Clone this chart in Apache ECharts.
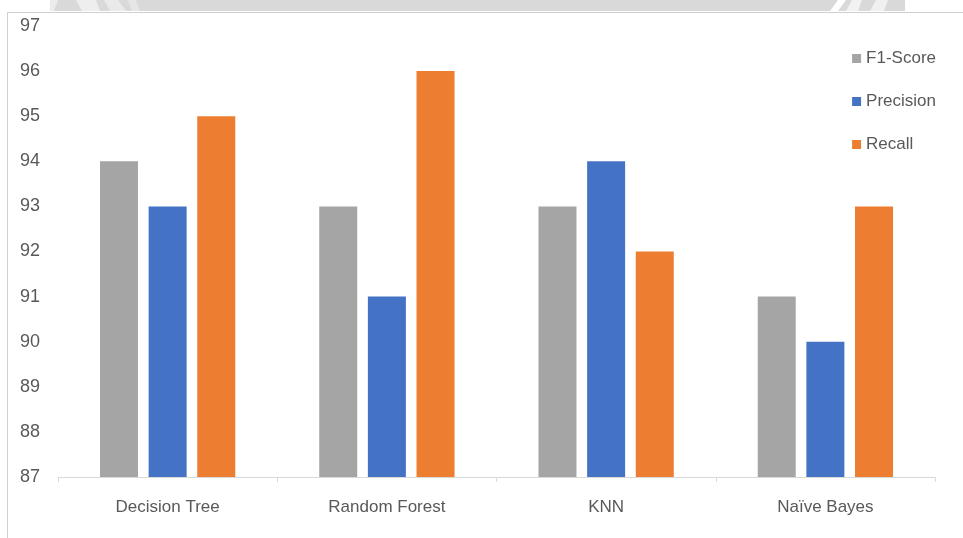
<!DOCTYPE html>
<html>
<head>
<meta charset="utf-8">
<script src="https://cdn.jsdelivr.net/npm/echarts@6/dist/echarts.min.js"></script>
<style>
  html, body { margin: 0; padding: 0; background: #ffffff; }
  #chart { width: 963px; height: 538px; }
</style>
</head>
<body>
<div id="chart"></div>
<script>
// Classifier metrics (%) per model
const categories = ['Decision Tree', 'Random Forest', 'KNN', 'Naïve Bayes'];
const f1Score = [94, 93, 93, 91];
const precision = [93, 91, 94, 90];
const recall = [95, 96, 92, 93];
const yTicks = { min: 87, max: 97, step: 1 };

const chart = echarts.init(document.getElementById('chart'));
const labelFont = 'Liberation Sans, Arial, sans-serif';

chart.setOption({
  animation: false,
  backgroundColor: '#ffffff',
  grid: { left: 58, right: 28, top: 26, bottom: 61 },
  legend: {
    orient: 'vertical',
    right: 22,
    top: 45,
    itemGap: 26,
    itemWidth: 9,
    itemHeight: 9,
    icon: 'rect',
    textStyle: { color: '#595959', fontSize: 17, fontFamily: labelFont },
    data: ['F1-Score', 'Precision', 'Recall']
  },
  xAxis: {
    type: 'category',
    data: categories,
    axisLine: { lineStyle: { color: '#d9d9d9', width: 1 } },
    axisTick: { show: true, length: 5, lineStyle: { color: '#d9d9d9' } },
    axisLabel: { color: '#595959', fontSize: 17, fontFamily: labelFont, margin: 22 }
  },
  yAxis: {
    type: 'value',
    min: yTicks.min,
    max: yTicks.max,
    interval: yTicks.step,
    axisLine: { show: false },
    axisTick: { show: false },
    splitLine: { show: false },
    axisLabel: { color: '#595959', fontSize: 18, fontFamily: labelFont, margin: 18 }
  },
  series: [
    { name: 'F1-Score', type: 'bar', data: f1Score, itemStyle: { color: '#a5a5a5' },
      barWidth: 38, barGap: '28%' },
    { name: 'Precision', type: 'bar', data: precision, itemStyle: { color: '#4472c4' },
      barWidth: 38, barGap: '28%' },
    { name: 'Recall', type: 'bar', data: recall, itemStyle: { color: '#ed7d31' },
      barWidth: 38, barGap: '28%' }
  ],
  graphic: [
    // grey strip across the top edge
    { type: 'rect', shape: { x: 50, y: 0, width: 855, height: 11 }, style: { fill: '#d9d9d9' }, silent: true },
    { type: 'polygon', shape: { points: [[50, 0], [58, 0], [54, 11], [50, 11]] }, style: { fill: '#ececec' }, silent: true },
    { type: 'polygon', shape: { points: [[76, 0], [96, 0], [100, 11], [82, 11]] }, style: { fill: '#eeeeee' }, silent: true },
    { type: 'polygon', shape: { points: [[104, 0], [118, 0], [126, 11], [110, 11]] }, style: { fill: '#eaeaea' }, silent: true },
    { type: 'polygon', shape: { points: [[128, 0], [136, 0], [140, 11], [132, 11]] }, style: { fill: '#e6e6e6' }, silent: true },
    { type: 'polygon', shape: { points: [[838, 0], [846, 0], [838, 11], [830, 11]] }, style: { fill: '#ffffff' }, silent: true },
    { type: 'polygon', shape: { points: [[852, 0], [862, 0], [858, 11], [846, 11]] }, style: { fill: '#f2f2f2' }, silent: true },
    { type: 'polygon', shape: { points: [[876, 0], [888, 0], [884, 11], [870, 11]] }, style: { fill: '#f0f0f0' }, silent: true },
    // page frame lines
    { type: 'line', shape: { x1: 7, y1: 12.5, x2: 963, y2: 12.5 }, style: { stroke: '#cfcfcf', lineWidth: 1 }, silent: true },
    { type: 'line', shape: { x1: 7.5, y1: 12, x2: 7.5, y2: 538 }, style: { stroke: '#d0d0d0', lineWidth: 1 }, silent: true }
  ]
});
</script>
</body>
</html>
